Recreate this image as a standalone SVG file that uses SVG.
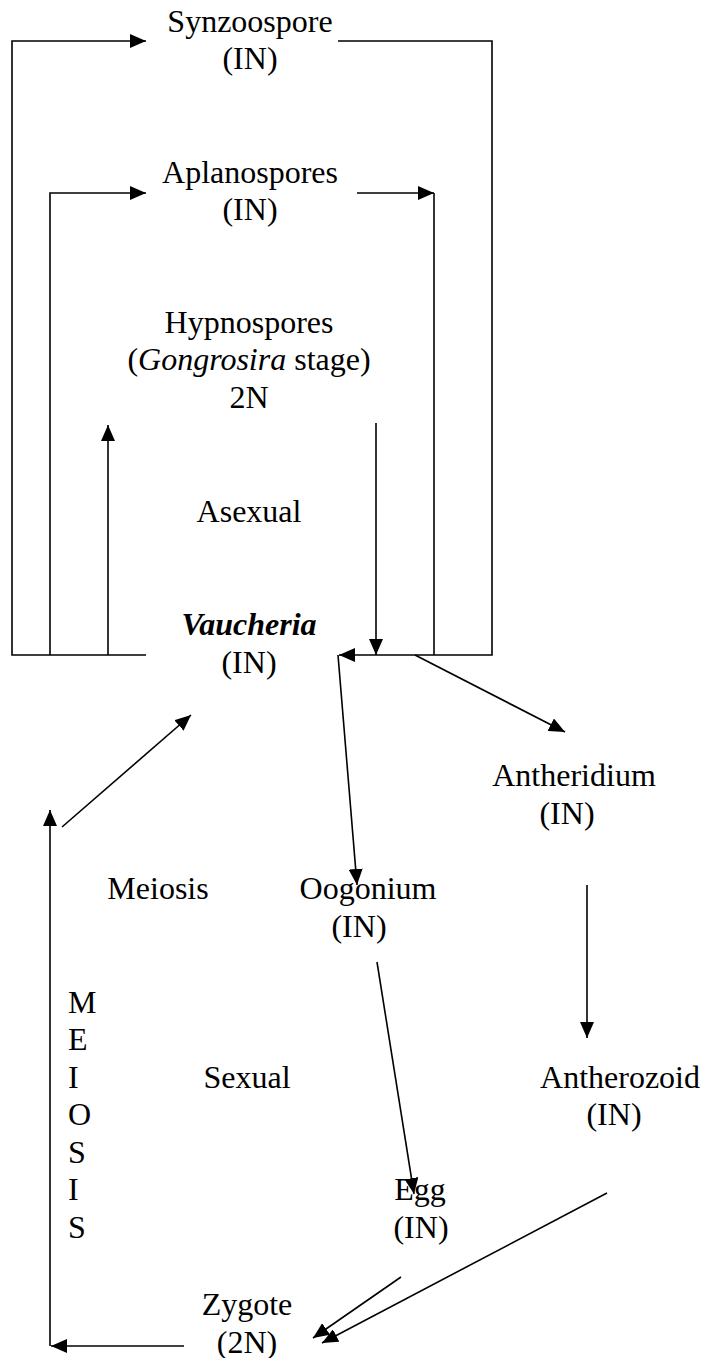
<svg xmlns="http://www.w3.org/2000/svg" width="704" height="1358" viewBox="0 0 704 1358">
  <style>
    text { font-family: "Liberation Serif", "Times New Roman", serif; font-size: 32px; fill: #000; }
    .c { text-anchor: middle; }
    .it { font-style: italic; }
    .bi { font-style: italic; font-weight: bold; }
    .ln { fill: none; stroke: #000; stroke-width: 1.6; }
    .ar { marker-end: url(#head); }
  </style>
  <defs>
    <marker id="head" viewBox="0 0 16 14" refX="16" refY="7" markerWidth="16" markerHeight="14" markerUnits="userSpaceOnUse" orient="auto">
      <path d="M0,0 L16,7 L0,14 z" fill="#000"/>
    </marker>
  </defs>

  <rect width="704" height="1358" fill="#fff"/>

  <!-- connectors -->
  <g id="connectors">
    <path class="ln ar" d="M146,655 H12 V41 H146"/>
    <path class="ln ar" d="M338,41 H492 V655 H339"/>
    <path class="ln ar" d="M50,655 V193 H146"/>
    <path class="ln ar" d="M357,193 H434"/>
    <path class="ln" d="M434,193 V655"/>
    <path class="ln ar" d="M108,655 V425"/>
    <path class="ln ar" d="M376,423 V655"/>
    <path class="ln ar" d="M415,655 L565,732"/>
    <path class="ln ar" d="M338,655 L357,885"/>
    <path class="ln ar" d="M587,885 V1038"/>
    <path class="ln ar" d="M377,962 L414,1194"/>
    <path class="ln ar" d="M401,1277 L313,1338"/>
    <path class="ln ar" d="M607,1193 L322,1343"/>
    <path class="ln ar" d="M184,1346 H51"/>
    <path class="ln ar" d="M50,1346 V810"/>
    <path class="ln ar" d="M62,827 L191,715"/>
  </g>

  <!-- nodes -->
  <g id="synzoospore">
    <text class="c" x="250" y="32">Synzoospore</text>
    <text class="c" x="250" y="69">(IN)</text>
  </g>
  <g id="aplanospores">
    <text class="c" x="250" y="183">Aplanospores</text>
    <text class="c" x="250" y="220">(IN)</text>
  </g>
  <g id="hypnospores">
    <text class="c" x="249" y="333">Hypnospores</text>
    <text class="c" x="249" y="370">(<tspan class="it">Gongrosira</tspan> stage)</text>
    <text class="c" x="249" y="408">2N</text>
  </g>
  <g id="asexual">
    <text class="c" x="249" y="522">Asexual</text>
  </g>
  <g id="vaucheria">
    <text class="c bi" x="249" y="635">Vaucheria</text>
    <text class="c" x="249" y="673">(IN)</text>
  </g>
  <g id="antheridium">
    <text class="c" x="574" y="786">Antheridium</text>
    <text class="c" x="567" y="824">(IN)</text>
  </g>
  <g id="meiosis">
    <text class="c" x="158" y="899">Meiosis</text>
  </g>
  <g id="oogonium">
    <text class="c" x="368" y="899">Oogonium</text>
    <text class="c" x="359" y="937">(IN)</text>
  </g>
  <g id="meiosis-vertical">
    <text x="68" y="1013">M</text>
    <text x="68" y="1050">E</text>
    <text x="68" y="1088">I</text>
    <text x="68" y="1125">O</text>
    <text x="68" y="1163">S</text>
    <text x="68" y="1200">I</text>
    <text x="68" y="1238">S</text>
  </g>
  <g id="sexual">
    <text class="c" x="247" y="1088">Sexual</text>
  </g>
  <g id="antherozoid">
    <text class="c" x="620" y="1088">Antherozoid</text>
    <text class="c" x="614" y="1125">(IN)</text>
  </g>
  <g id="egg">
    <text class="c" x="420" y="1200">Egg</text>
    <text class="c" x="421" y="1238">(IN)</text>
  </g>
  <g id="zygote">
    <text class="c" x="247" y="1315">Zygote</text>
    <text class="c" x="247" y="1353">(2N)</text>
  </g>
</svg>
